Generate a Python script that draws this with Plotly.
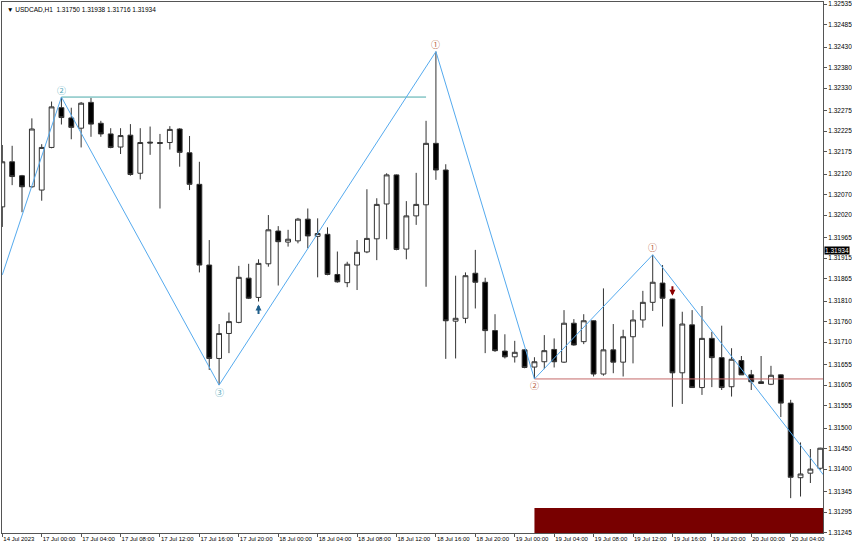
import pandas as pd
import plotly.graph_objects as go

# =============================================================================
# USDCAD H1 bars, 14 Jul 2023 20:00 -> 20 Jul 2023 07:00 (weekend skipped)
# =============================================================================

bar_times = list(pd.date_range("2023-07-14 20:00", "2023-07-14 23:00", freq="h")) + list(
    pd.date_range("2023-07-17 00:00", "2023-07-20 07:00", freq="h")
)
bar_no = list(range(len(bar_times)))

opens = [1.32040, 1.32150, 1.32116, 1.32089, 1.32081, 1.32185, 1.32282, 1.32257, 1.32232, 1.32295,
         1.32244, 1.32218, 1.32186, 1.32215, 1.32122, 1.32198, 1.32197, 1.32197, 1.32230, 1.32172,
         1.32095, 1.31898, 1.31670, 1.31731, 1.31758, 1.31866, 1.31819, 1.31901, 1.31981, 1.31954,
         1.31957, 1.32010, 1.31968, 1.31973, 1.31875, 1.31855, 1.31898, 1.31930, 1.31962, 1.32047,
         1.32118, 1.31937, 1.32018, 1.32045, 1.32195, 1.32130, 1.31761, 1.31768, 1.31878, 1.31856,
         1.31738, 1.31688, 1.31674, 1.31691, 1.31649, 1.31662, 1.31692, 1.31661, 1.31756, 1.31711,
         1.31762, 1.31632, 1.31691, 1.31661, 1.31723, 1.31764, 1.31807, 1.31854, 1.31815, 1.31635,
         1.31752, 1.31599, 1.31719, 1.31672, 1.31601, 1.31665, 1.31630, 1.31613, 1.31607, 1.31630,
         1.31561, 1.31379, 1.31390, 1.31402]
highs = [1.32191, 1.32189, 1.32118, 1.32256, 1.32193, 1.32297, 1.32308, 1.32282, 1.32296, 1.32306,
         1.32250, 1.32232, 1.32232, 1.32242, 1.32232, 1.32236, 1.32218, 1.32237, 1.32232, 1.32213,
         1.32150, 1.31959, 1.31754, 1.31782, 1.31896, 1.31901, 1.31912, 1.32020, 1.31993, 1.31984,
         1.32013, 1.32036, 1.32012, 1.31990, 1.31931, 1.31906, 1.31959, 1.32083, 1.32061, 1.32122,
         1.32119, 1.32054, 1.32123, 1.32250, 1.32419, 1.32144, 1.31872, 1.31880, 1.31935, 1.31867,
         1.31778, 1.31729, 1.31713, 1.31692, 1.31673, 1.31727, 1.31719, 1.31788, 1.31766, 1.31778,
         1.31763, 1.31841, 1.31754, 1.31740, 1.31788, 1.31835, 1.31923, 1.31898, 1.31816, 1.31784,
         1.31788, 1.31798, 1.31735, 1.31750, 1.31695, 1.31676, 1.31642, 1.31676, 1.31652, 1.31631,
         1.31569, 1.31465, 1.31449, 1.31452]
lows = [1.31991, 1.32093, 1.32027, 1.32086, 1.32055, 1.32183, 1.32241, 1.32205, 1.32185, 1.32211,
        1.32211, 1.32183, 1.32169, 1.32116, 1.32107, 1.32167, 1.32036, 1.32180, 1.32138, 1.32081,
        1.31880, 1.31642, 1.31605, 1.31683, 1.31756, 1.31815, 1.31809, 1.31894, 1.31848, 1.31943,
        1.31951, 1.31939, 1.31868, 1.31873, 1.31855, 1.31844, 1.31837, 1.31927, 1.31910, 1.31961,
        1.31934, 1.31912, 1.31996, 1.31845, 1.32106, 1.31669, 1.31670, 1.31756, 1.31792, 1.31683,
        1.31686, 1.31670, 1.31660, 1.31646, 1.31620, 1.31644, 1.31648, 1.31659, 1.31701, 1.31705,
        1.31626, 1.31628, 1.31634, 1.31626, 1.31658, 1.31745, 1.31786, 1.31748, 1.31552, 1.31559,
        1.31598, 1.31581, 1.31600, 1.31593, 1.31577, 1.31630, 1.31593, 1.31608, 1.31605, 1.31527,
        1.31329, 1.31333, 1.31366, 1.31398]
closes = [1.32150, 1.32114, 1.32089, 1.32230, 1.32185, 1.32284, 1.32258, 1.32234, 1.32293, 1.32242,
          1.32218, 1.32185, 1.32214, 1.32119, 1.32197, 1.32196, 1.32195, 1.32229, 1.32173, 1.32095,
          1.31898, 1.31670, 1.31731, 1.31760, 1.31868, 1.31817, 1.31902, 1.31984, 1.31955, 1.31961,
          1.32010, 1.31969, 1.31975, 1.31875, 1.31857, 1.31900, 1.31929, 1.31963, 1.32046, 1.32118,
          1.31936, 1.32018, 1.32046, 1.32195, 1.32130, 1.31762, 1.31768, 1.31872, 1.31856, 1.31738,
          1.31689, 1.31674, 1.31685, 1.31648, 1.31662, 1.31689, 1.31662, 1.31756, 1.31703, 1.31762,
          1.31632, 1.31691, 1.31661, 1.31723, 1.31764, 1.31807, 1.31856, 1.31817, 1.31635, 1.31754,
          1.31599, 1.31719, 1.31672, 1.31599, 1.31668, 1.31630, 1.31613, 1.31609, 1.31629, 1.31561,
          1.31380, 1.31388, 1.31400, 1.31451]

# zigzag pivots (bar number, price); first / last run off the chart edges
zz_bars = [0, 6, 22, 44, 54, 66, 84]
zz_prices = [1.31874, 1.32308, 1.31605, 1.32419, 1.31620, 1.31923, 1.31365]

# numbered pivot labels: bar, side (+1 above high, -1 below low), label, colour
pivot_bars = [6, 22, 44, 54, 66]
pivot_side = [1, -1, 1, -1, 1]
pivot_text = ["②", "③", "①", "②", "①"]
pivot_color = ["#4fa6b8", "#4fa6b8", "#b8653f", "#b8653f", "#b8653f"]

# levels
res_start, res_end, res_price = 6, 43, 1.32308
sup_start, sup_end, sup_price = 54, 84, 1.31620
zone_start, zone_end, zone_top, zone_bottom = 54, 84, 1.31305, 1.31200

# signal arrows
buy_bar, sell_bar = 26, 68

last_price = 1.31934
header = "▼ USDCAD,H1  1.31750 1.31938 1.31716 1.31934"

tick_bars = list(range(0, 84, 4))
tick_labels = ["14 Jul 2023", "17 Jul 00:00", "17 Jul 04:00", "17 Jul 08:00", "17 Jul 12:00",
               "17 Jul 16:00", "17 Jul 20:00", "18 Jul 00:00", "18 Jul 04:00", "18 Jul 08:00",
               "18 Jul 12:00", "18 Jul 16:00", "18 Jul 20:00", "19 Jul 00:00", "19 Jul 04:00",
               "19 Jul 08:00", "19 Jul 12:00", "19 Jul 16:00", "19 Jul 20:00", "20 Jul 00:00",
               "20 Jul 04:00"]
price_ticks = [1.32535, 1.32485, 1.32430, 1.32380, 1.32330, 1.32275, 1.32225, 1.32175, 1.32120,
               1.32070, 1.32020, 1.31965, 1.31915, 1.31865, 1.31810, 1.31760, 1.31710, 1.31655,
               1.31605, 1.31555, 1.31500, 1.31450, 1.31400, 1.31345, 1.31295, 1.31245]

FONT = "Liberation Sans"

# =============================================================================
# Plot
# =============================================================================

fig = go.Figure()

fig.add_shape(type="rect", x0=zone_start, x1=zone_end, y0=zone_bottom, y1=zone_top,
              fillcolor="#780000", line=dict(width=0), layer="below")

fig.add_trace(go.Candlestick(
    x=bar_no, open=opens, high=highs, low=lows, close=closes,
    increasing=dict(line=dict(color="#333333", width=1), fillcolor="white"),
    decreasing=dict(line=dict(color="#333333", width=1), fillcolor="black"),
    hoverinfo="skip",
))

fig.add_trace(go.Scatter(x=[res_start, res_end], y=[res_price, res_price], mode="lines",
                         line=dict(color="#4aa9a9", width=1), hoverinfo="skip"))
fig.add_trace(go.Scatter(x=[sup_start, sup_end], y=[sup_price, sup_price], mode="lines",
                         line=dict(color="#c46a6a", width=1), hoverinfo="skip"))
fig.add_trace(go.Scatter(x=zz_bars, y=zz_prices, mode="lines",
                         line=dict(color="#55aaee", width=1), hoverinfo="skip"))

for b, s, t, c in zip(pivot_bars, pivot_side, pivot_text, pivot_color):
    price = highs[b] if s > 0 else lows[b]
    fig.add_annotation(x=b, y=price, text=t, showarrow=False, yshift=7 * s,
                       font=dict(family="Noto Sans CJK JP", size=9, color=c))

# buy / sell arrows
fig.add_annotation(x=buy_bar, y=lows[buy_bar], yshift=-3, text="", showarrow=True,
                   ax=0, ay=11, arrowhead=2, arrowsize=0.6, arrowwidth=2, arrowcolor="#1f5f8b")
fig.add_annotation(x=sell_bar, y=highs[sell_bar], yshift=3, text="", showarrow=True,
                   ax=0, ay=-11, arrowhead=2, arrowsize=0.6, arrowwidth=2, arrowcolor="#8b0000")

# current price box on the price scale
fig.add_annotation(xref="paper", x=1.0, xanchor="left", y=last_price, text=f"{last_price:.5f}",
                   showarrow=False, bgcolor="black", borderpad=0, xshift=1,
                   font=dict(family=FONT, size=6.5, color="white"))

fig.add_annotation(xref="paper", yref="paper", x=0.004, y=0.997, xanchor="left", yanchor="top",
                   text=header, showarrow=False, font=dict(family=FONT, size=6.5, color="black"))

fig.update_layout(
    template="none",
    width=852, height=547,
    margin=dict(l=2, r=29, t=2, b=14),
    paper_bgcolor="white", plot_bgcolor="white",
    showlegend=False,
    font=dict(family=FONT, size=6.5, color="black"),
)
fig.update_xaxes(
    range=[-0.03, 83.28], tickvals=tick_bars, ticktext=tick_labels, tickangle=0,
    ticks="outside", ticklen=3, tickcolor="#555", ticklabelposition="outside right",
    showline=True, linecolor="#555", mirror=True, showgrid=False, zeroline=False,
    rangeslider_visible=False, tickfont=dict(size=6),
)
fig.update_yaxes(
    side="right", range=[1.31244, 1.32540], tickvals=price_ticks,
    ticktext=[f"{p:.5f}" for p in price_ticks],
    ticks="outside", ticklen=3, tickcolor="#555",
    showline=True, linecolor="#555", mirror=True, showgrid=False, zeroline=False,
    tickfont=dict(size=6.5),
)

# page body has a default margin; drop it so the chart sits at the window corner
fig.write_html("out.html", config={"displayModeBar": False},
               post_script="document.body.style.margin='0';")
